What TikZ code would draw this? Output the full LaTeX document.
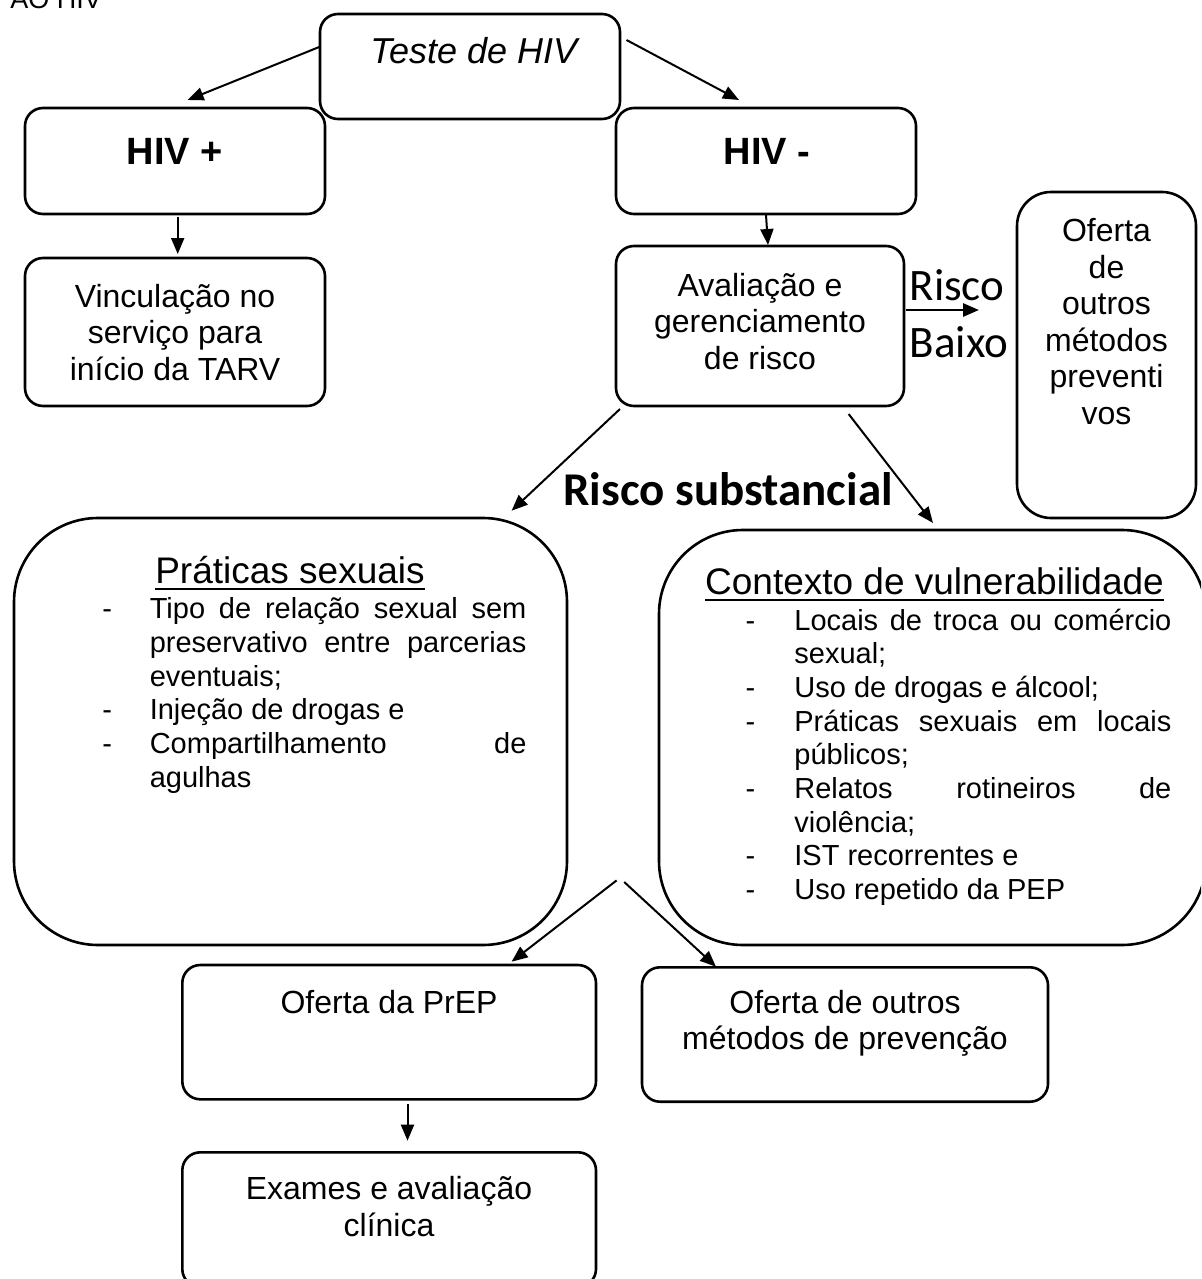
\documentclass[tikz,border=0pt]{standalone}
\usepackage{fontspec}
\setmainfont{Liberation Sans}
\newfontfamily\calib{Carlito}
\usetikzlibrary{arrows.meta,calc,fit}
\newcommand\hdline[1]{{\setbox0\hbox{#1}\rlap{\rule[-3.6pt]{\wd0}{1.3pt}}\box0}}
\newcommand\dsh[1]{\makebox[#1][l]{-}}
\newcommand\jst[2]{\makebox[#1][s]{#2}}
\begin{document}
\begin{tikzpicture}[x=0.5pt,y=-0.5pt,
  box/.style={draw, line width=1.3pt, rounded corners=9pt, inner sep=0pt, outer sep=0pt},
  bigbox/.style={box, rounded corners=42pt},
  tallbox/.style={box, rounded corners=17pt},
  txt/.style={align=center, inner sep=0pt, font=\fontsize{16}{18.3}\selectfont},
  lst/.style={align=left, inner sep=0pt, anchor=west, font=\fontsize{14.5}{16.85}\selectfont},
  hd/.style={inner sep=0pt, anchor=base, font=\fontsize{18.5}{22}\selectfont},
  cal/.style={inner sep=0pt, font=\calib\fontsize{22.5}{26}\selectfont},
  arr/.style={-{Triangle[length=8pt,width=6.5pt]}, line width=1pt},
]
\fill[white] (0,0) rectangle (1201,1279);
\useasboundingbox (0,0) rectangle (1201,1279);
\begin{scope}
\clip (0,0) rectangle (1201,1279);

\node[anchor=base west, inner sep=0pt, font=\fontsize{13.5}{16}\selectfont] (aohiv) at (10,8.5) {AO HIV};

\node[box, fit={(320,14) (620,119)}] (teste) {};
\node[txt, anchor=base, font=\fontsize{18}{21}\selectfont\itshape] (teste-t) at (473.7,63.3) {Teste de HIV};

\node[box, fit={(25,108) (325,214)}] (hivp) {};
\node[txt, anchor=base, font=\fontsize{19}{22}\selectfont\bfseries] (hivp-t) at (175,164.3) {HIV +};
\node[box, fit={(616,108) (916,214)}] (hivn) {};
\node[txt, anchor=base, font=\fontsize{19}{22}\selectfont\bfseries] (hivn-t) at (767,164.3) {HIV -};

\node[box, fit={(25,258) (325,406)}] (vinc) {};
\node[txt] (vinc-t) at (175,332.5) {Vinculação no\\serviço para\\início da TARV};

\node[box, fit={(616,246) (904,406)}] (aval) {};
\node[txt] (aval-t) at (760,321.5) {Avaliação e\\gerenciamento\\de risco};

\node[tallbox, fit={(1017,192) (1196,518)}] (ofprev) {};
\node[txt] (ofprev-t) at (1106.5,321.5) {Oferta\\de\\outros\\métodos\\preventi\\vos};

\node[cal] (risco) at (957,285) {Risco};
\node[cal] (baixo) at (959,342) {Baixo};
\node[inner sep=0pt, font=\calib\bfseries\fontsize{23.5}{27}\selectfont] (rsub) at (728,489) {Risco substancial};

\node[bigbox, fit={(14,518) (567,945)}] (prat) {};
\node[hd] (prat-h) at (290,583) {\hdline{Práticas sexuais}};
\node[lst] (prat-l) at (102,695.4) {%
\dsh{23.7pt}\jst{188.3pt}{Tipo de relação sexual sem}\\
\hspace*{23.7pt}\jst{188.3pt}{preservativo entre parcerias}\\
\hspace*{23.7pt}eventuais;\\
\dsh{23.7pt}Injeção de drogas e\\
\dsh{23.7pt}\jst{188.3pt}{Compartilhamento de}\\
\hspace*{23.7pt}agulhas};

\node[bigbox, fit={(659,530) (1206,945)}] (cont) {};
\node[hd] (cont-h) at (934.5,594) {\hdline{Contexto de vulnerabilidade}};
\node[lst] (cont-l) at (745.3,757.2) {%
\dsh{24.35pt}\jst{188.5pt}{Locais de troca ou comércio}\\
\hspace*{24.35pt}sexual;\\
\dsh{24.35pt}Uso de drogas e álcool;\\
\dsh{24.35pt}\jst{188.5pt}{Práticas sexuais em locais}\\
\hspace*{24.35pt}públicos;\\
\dsh{24.35pt}\jst{188.5pt}{Relatos rotineiros de}\\
\hspace*{24.35pt}violência;\\
\dsh{24.35pt}IST recorrentes e\\
\dsh{24.35pt}Uso repetido da PEP};

\node[box, fit={(182.3,965) (596,1099.3)}] (prep) {};
\node[txt] (prep-t) at (389,1001.7) {Oferta da PrEP};
\node[box, fit={(642,967.3) (1048,1101.7)}] (ofout) {};
\node[txt] (ofout-t) at (845,1023.3) {Oferta de outros\\métodos de prevenção};
\node[box, fit={(182.3,1152.3) (596,1287)}] (exam) {};
\node[txt] (exam-t) at (389,1206.7) {Exames e avaliação\\clínica};

\draw[arr] ($(teste.west)+(0,-19.8)$) -- ($(hivp.north)+(12.6,-8)$);
\draw[arr] ($(teste.east)+(6.5,-26.5)$) -- ($(hivn.north)+(-27,-8)$);
\draw[arr] ($(hivp.south)+(2.7,2.7)$) -- ($(vinc.north)+(2.7,-4)$);
\draw[arr] ($(hivn.south)+(0,1)$) -- ($(aval.north)+(8,-1)$);
\draw[arr, line width=1.4pt] ($(aval.east)+(2,-16)$) -- ($(ofprev.west)+(-38,-45)$);
\draw[arr] ($(aval.south west)+(4,3)$) -- ($(prat.north east)+(-55.4,-7.3)$);
\draw[arr] ($(aval.south)+(88.6,8)$) -- ($(cont.north)+(0.5,-7)$);
\coordinate (forkL) at (616.6,880.4);
\coordinate (forkR) at (624.2,882);
\draw[arr] (forkL) -- ($(prep.north east)+(-84.4,-3.3)$);
\draw[arr] (forkR) -- ($(ofout.north west)+(74,-0.6)$);
\draw[arr] ($(prep.south)+(18.35,4.7)$) -- ($(exam.north)+(18.35,-11.6)$);
\end{scope}
\end{tikzpicture}
\end{document}
